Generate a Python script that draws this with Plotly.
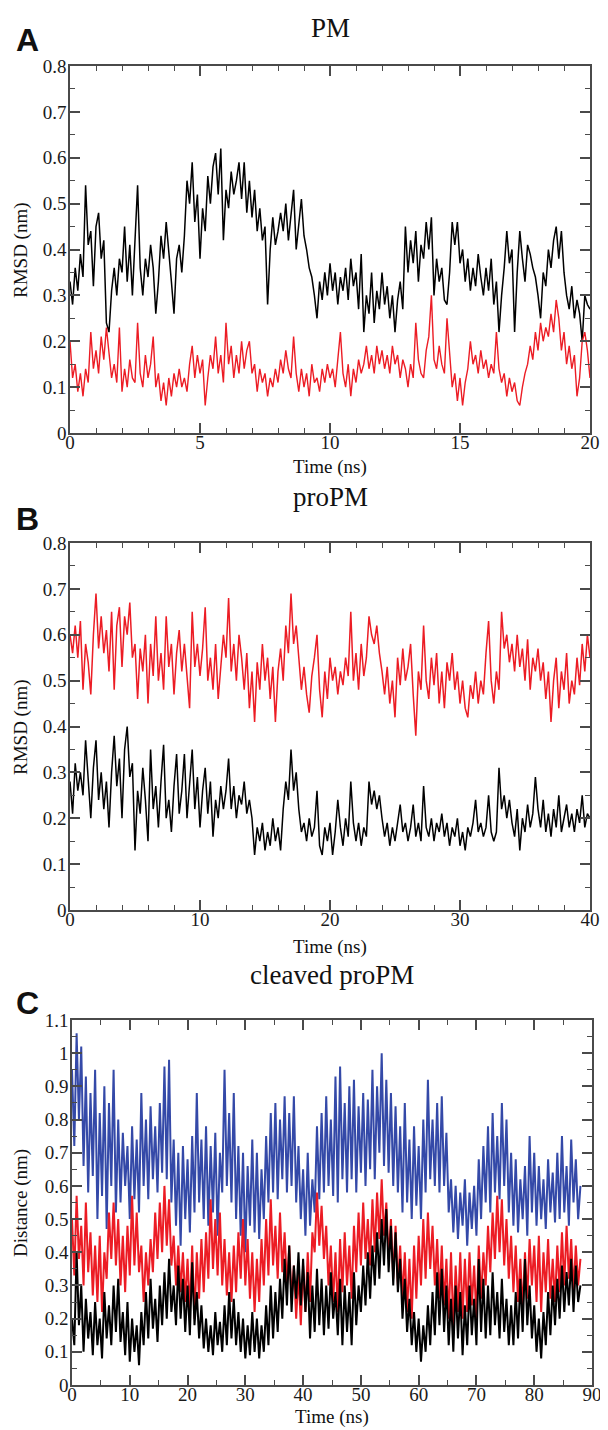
import numpy as np
import plotly.graph_objects as go

# the page body has an 8 px margin, so the figure is drawn 8 px in from the corner
W, H = 608, 1430
OFF = 8
FIG_W, FIG_H = W - OFF, H - OFF

# ---- panel A: PM, RMSD (nm) over 20 ns, one value per 0.1 ns ----
pm_black = [
    0.33, 0.28, 0.36, 0.31, 0.39, 0.34, 0.54, 0.41, 0.44, 0.32,
    0.45, 0.48, 0.38, 0.42, 0.24, 0.22, 0.31, 0.36, 0.30, 0.38,
    0.35, 0.45, 0.33, 0.41, 0.30, 0.44, 0.54, 0.36, 0.30, 0.38,
    0.34, 0.41, 0.36, 0.26, 0.33, 0.43, 0.38, 0.46, 0.40, 0.33,
    0.26, 0.38, 0.41, 0.35, 0.43, 0.55, 0.50, 0.59, 0.46, 0.52,
    0.38, 0.49, 0.44, 0.56, 0.50, 0.58, 0.61, 0.52, 0.62, 0.42,
    0.53, 0.49, 0.57, 0.52, 0.55, 0.59, 0.51, 0.59, 0.48, 0.55,
    0.47, 0.53, 0.44, 0.49, 0.42, 0.45, 0.28, 0.40, 0.47, 0.41,
    0.44, 0.48, 0.44, 0.50, 0.42, 0.47, 0.53, 0.40, 0.46, 0.51,
    0.43, 0.40, 0.36, 0.34, 0.30, 0.25, 0.33, 0.29, 0.35, 0.30,
    0.37, 0.31, 0.35, 0.28, 0.34, 0.31, 0.36, 0.29, 0.38, 0.32,
    0.35, 0.27, 0.39, 0.22, 0.30, 0.26, 0.35, 0.24, 0.31, 0.27,
    0.35, 0.28, 0.32, 0.25, 0.30, 0.22, 0.29, 0.33, 0.27, 0.45,
    0.35, 0.42, 0.37, 0.44, 0.33, 0.41, 0.38, 0.46, 0.40, 0.47,
    0.30, 0.38, 0.33, 0.36, 0.29, 0.28, 0.35, 0.46, 0.41, 0.46,
    0.37, 0.40, 0.33, 0.38, 0.31, 0.36, 0.32, 0.39, 0.34, 0.30,
    0.36, 0.31, 0.38, 0.28, 0.33, 0.22, 0.30, 0.36, 0.44, 0.37,
    0.40, 0.22, 0.35, 0.44, 0.38, 0.33, 0.41, 0.39, 0.36, 0.34,
    0.30, 0.25, 0.35, 0.32, 0.40, 0.36, 0.42, 0.45, 0.38, 0.44,
    0.35, 0.30, 0.27, 0.32, 0.25, 0.29, 0.26, 0.20, 0.30, 0.28,
    0.27,
]
pm_red = [
    0.20, 0.12, 0.15, 0.09, 0.13, 0.08, 0.14, 0.11, 0.22, 0.14,
    0.18, 0.13, 0.21, 0.16, 0.23, 0.17, 0.12, 0.15, 0.11, 0.23,
    0.09, 0.14, 0.10, 0.16, 0.12, 0.11, 0.24, 0.13, 0.10, 0.17,
    0.12, 0.15, 0.21, 0.10, 0.13, 0.07, 0.11, 0.06, 0.12, 0.08,
    0.13, 0.10, 0.14, 0.10, 0.12, 0.09, 0.15, 0.19, 0.12, 0.17,
    0.13, 0.16, 0.06, 0.12, 0.17, 0.14, 0.21, 0.13, 0.17, 0.11,
    0.24, 0.15, 0.19, 0.12, 0.17, 0.13, 0.20, 0.14, 0.18, 0.20,
    0.13, 0.15, 0.09, 0.14, 0.11, 0.13, 0.08, 0.12, 0.10, 0.14,
    0.11, 0.16, 0.13, 0.18, 0.14, 0.12, 0.21, 0.13, 0.09, 0.14,
    0.10, 0.13, 0.08, 0.15, 0.11, 0.12, 0.09, 0.14, 0.11, 0.15,
    0.12, 0.14, 0.10, 0.16, 0.22, 0.13, 0.10, 0.15, 0.08, 0.14,
    0.11, 0.16, 0.13, 0.15, 0.19, 0.14, 0.17, 0.13, 0.19, 0.15,
    0.18, 0.14, 0.17, 0.13, 0.19, 0.15, 0.17, 0.12, 0.16, 0.14,
    0.10, 0.15, 0.12, 0.24, 0.16, 0.13, 0.12, 0.18, 0.21, 0.30,
    0.16, 0.14, 0.19, 0.15, 0.13, 0.25, 0.17, 0.10, 0.13, 0.07,
    0.12, 0.06, 0.11, 0.14, 0.20, 0.15, 0.17, 0.13, 0.18, 0.14,
    0.16, 0.12, 0.15, 0.13, 0.22, 0.14, 0.11, 0.13, 0.08, 0.12,
    0.09, 0.11, 0.07, 0.06, 0.10, 0.13, 0.15, 0.19, 0.16, 0.22,
    0.18, 0.24, 0.20, 0.23, 0.21, 0.26, 0.22, 0.29, 0.25, 0.18,
    0.22, 0.15, 0.19, 0.14, 0.17, 0.08, 0.12, 0.20, 0.22, 0.18,
    0.12,
]

# ---- panel B: proPM, RMSD (nm) over 40 ns, one value per 0.2 ns ----
propm_red = [
    0.60, 0.56, 0.62, 0.55, 0.63, 0.48, 0.58, 0.54, 0.47, 0.60,
    0.69, 0.57, 0.64, 0.56, 0.61, 0.52, 0.65, 0.48, 0.62, 0.66,
    0.53, 0.64, 0.60, 0.67, 0.55, 0.58, 0.46, 0.57, 0.52, 0.60,
    0.45, 0.58, 0.51, 0.64, 0.50, 0.56, 0.48, 0.64, 0.53, 0.58,
    0.47, 0.56, 0.61, 0.52, 0.58, 0.50, 0.44, 0.65, 0.53, 0.58,
    0.51, 0.57, 0.66, 0.50, 0.55, 0.48, 0.58, 0.46, 0.54, 0.60,
    0.55, 0.68, 0.52, 0.58, 0.50, 0.60, 0.55, 0.48, 0.56, 0.44,
    0.52, 0.41, 0.54, 0.48, 0.58, 0.50, 0.55, 0.46, 0.53, 0.41,
    0.52, 0.57, 0.50, 0.62, 0.56, 0.69, 0.58, 0.62, 0.55, 0.48,
    0.53, 0.47, 0.43, 0.51, 0.55, 0.60, 0.48, 0.42, 0.52, 0.46,
    0.55, 0.50, 0.53, 0.47, 0.52, 0.49, 0.55, 0.51, 0.65, 0.50,
    0.56, 0.48, 0.58, 0.51, 0.55, 0.64, 0.60, 0.58, 0.62, 0.56,
    0.52, 0.47, 0.53, 0.45, 0.50, 0.42, 0.55, 0.49, 0.57, 0.50,
    0.53, 0.58, 0.47, 0.38, 0.52, 0.48, 0.62, 0.50, 0.46, 0.55,
    0.49, 0.56, 0.45, 0.52, 0.44, 0.54, 0.50, 0.56, 0.48, 0.52,
    0.45, 0.50, 0.44, 0.42, 0.49, 0.46, 0.52, 0.45, 0.50, 0.47,
    0.56, 0.63, 0.50, 0.45, 0.52, 0.48, 0.65, 0.57, 0.60, 0.54,
    0.58, 0.52, 0.60, 0.53, 0.57, 0.50, 0.59, 0.48, 0.55, 0.52,
    0.57, 0.50, 0.54, 0.46, 0.52, 0.41, 0.50, 0.55, 0.44, 0.52,
    0.48, 0.56, 0.45, 0.50, 0.47, 0.55, 0.49, 0.58, 0.52, 0.60,
    0.55,
]
propm_black = [
    0.28, 0.21, 0.32, 0.26, 0.30, 0.25, 0.37, 0.28, 0.20, 0.31,
    0.37, 0.24, 0.30, 0.22, 0.28, 0.18, 0.30, 0.38, 0.27, 0.33,
    0.20, 0.35, 0.40, 0.29, 0.32, 0.13, 0.26, 0.21, 0.31, 0.24,
    0.15, 0.35, 0.22, 0.27, 0.18, 0.28, 0.36, 0.20, 0.24, 0.17,
    0.27, 0.34, 0.21, 0.26, 0.34, 0.20, 0.27, 0.35, 0.22, 0.29,
    0.18, 0.26, 0.31, 0.21, 0.28, 0.16, 0.24, 0.20, 0.27, 0.22,
    0.26, 0.33, 0.22, 0.27, 0.20, 0.25, 0.23, 0.28, 0.21, 0.24,
    0.20, 0.12, 0.18, 0.15, 0.19, 0.13, 0.17, 0.14, 0.20, 0.15,
    0.18, 0.13, 0.22, 0.28, 0.24, 0.35, 0.26, 0.30, 0.22, 0.17,
    0.19, 0.15, 0.20, 0.16, 0.18, 0.26, 0.14, 0.12, 0.18, 0.15,
    0.19, 0.12, 0.17, 0.24, 0.18, 0.14, 0.20, 0.16, 0.28, 0.19,
    0.15, 0.19, 0.14, 0.18, 0.16, 0.28, 0.23, 0.26, 0.22, 0.25,
    0.20, 0.16, 0.19, 0.14, 0.18, 0.15, 0.19, 0.23, 0.17, 0.19,
    0.15, 0.18, 0.23, 0.16, 0.19, 0.15, 0.27, 0.18, 0.16, 0.20,
    0.15, 0.19, 0.17, 0.21, 0.16, 0.19, 0.14, 0.18, 0.16, 0.20,
    0.14, 0.17, 0.13, 0.18, 0.16, 0.19, 0.24, 0.17, 0.19, 0.16,
    0.18, 0.25, 0.17, 0.15, 0.17, 0.31, 0.22, 0.25, 0.20, 0.24,
    0.19, 0.16, 0.22, 0.13, 0.20, 0.17, 0.23, 0.18, 0.21, 0.29,
    0.22, 0.18, 0.24, 0.17, 0.21, 0.16, 0.22, 0.18, 0.25, 0.17,
    0.20, 0.23, 0.18, 0.21, 0.17, 0.22, 0.19, 0.25, 0.18, 0.21,
    0.20,
]

# ---- panel C: cleaved proPM, distance (nm) over 88 ns, one value per 0.4 ns ----
cleaved_blue = [
    0.95, 0.72, 1.06, 0.80, 1.02, 0.66, 0.93, 0.58, 0.88, 0.63,
    0.95, 0.50, 0.82, 0.57, 0.90, 0.47, 0.85, 0.60, 0.95, 0.52,
    0.80, 0.55, 0.76, 0.60, 0.72, 0.50, 0.78, 0.56, 0.74, 0.52,
    0.88, 0.60, 0.80, 0.56, 0.84, 0.62, 0.78, 0.58, 0.85, 0.64,
    0.96, 0.62, 0.98, 0.55, 0.74, 0.48, 0.70, 0.42, 0.72, 0.50,
    0.68, 0.46, 0.75, 0.52, 0.88, 0.55, 0.74, 0.50, 0.78, 0.48,
    0.72, 0.52, 0.76, 0.45, 0.70, 0.58, 0.95, 0.60, 0.82, 0.55,
    0.88, 0.50, 0.72, 0.45, 0.70, 0.40, 0.66, 0.48, 0.74, 0.46,
    0.70, 0.44, 0.65, 0.50, 0.75, 0.55, 0.82, 0.58, 0.85, 0.56,
    0.80, 0.62, 0.87, 0.58, 0.82, 0.60, 0.87, 0.55, 0.72, 0.50,
    0.65, 0.45, 0.70, 0.48, 0.62, 0.52, 0.78, 0.56, 0.82, 0.58,
    0.87, 0.60, 0.80, 0.57, 0.93, 0.55, 0.96, 0.62, 0.85, 0.58,
    0.90, 0.62, 0.92, 0.58, 0.84, 0.64, 0.88, 0.60, 0.86, 0.65,
    0.95, 0.62, 0.90, 0.70, 1.00, 0.66, 0.92, 0.64, 0.88, 0.60,
    0.84, 0.58, 0.78, 0.52, 0.85, 0.55, 0.74, 0.50, 0.78, 0.54,
    0.72, 0.50, 0.80, 0.58, 0.92, 0.62, 0.80, 0.60, 0.85, 0.58,
    0.87, 0.60, 0.76, 0.52, 0.62, 0.46, 0.60, 0.44, 0.58, 0.48,
    0.62, 0.42, 0.58, 0.47, 0.60, 0.45, 0.68, 0.50, 0.72, 0.55,
    0.78, 0.52, 0.82, 0.58, 0.75, 0.56, 0.85, 0.60, 0.80, 0.52,
    0.70, 0.48, 0.68, 0.46, 0.62, 0.50, 0.66, 0.45, 0.75, 0.52,
    0.70, 0.48, 0.66, 0.50, 0.62, 0.47, 0.68, 0.52, 0.64, 0.49,
    0.70, 0.50, 0.75, 0.52, 0.66, 0.48, 0.74, 0.55, 0.68, 0.50,
    0.60,
]
cleaved_red = [
    0.50, 0.33, 0.57, 0.38, 0.48, 0.30, 0.55, 0.34, 0.46, 0.27,
    0.42, 0.25, 0.45, 0.22, 0.40, 0.32, 0.52, 0.38, 0.55, 0.36,
    0.50, 0.30, 0.45, 0.28, 0.48, 0.33, 0.57, 0.36, 0.52, 0.34,
    0.42, 0.25, 0.40, 0.30, 0.44, 0.34, 0.52, 0.38, 0.55, 0.40,
    0.60, 0.42, 0.56, 0.36, 0.45, 0.30, 0.42, 0.28, 0.40, 0.25,
    0.38, 0.22, 0.42, 0.20, 0.40, 0.26, 0.44, 0.28, 0.46, 0.32,
    0.56, 0.35, 0.50, 0.33, 0.52, 0.30, 0.44, 0.27, 0.40, 0.25,
    0.42, 0.28, 0.46, 0.32, 0.50, 0.30, 0.44, 0.26, 0.40, 0.22,
    0.38, 0.25, 0.44, 0.30, 0.50, 0.33, 0.56, 0.36, 0.48, 0.32,
    0.52, 0.34, 0.46, 0.30, 0.42, 0.26, 0.36, 0.20, 0.34, 0.18,
    0.36, 0.22, 0.40, 0.25, 0.46, 0.40, 0.58, 0.42, 0.54, 0.38,
    0.48, 0.30, 0.42, 0.25, 0.40, 0.22, 0.44, 0.28, 0.46, 0.30,
    0.42, 0.26, 0.48, 0.34, 0.52, 0.36, 0.55, 0.38, 0.50, 0.36,
    0.56, 0.40, 0.58, 0.44, 0.62, 0.45, 0.55, 0.38, 0.50, 0.32,
    0.48, 0.30, 0.42, 0.26, 0.40, 0.22, 0.38, 0.20, 0.42, 0.26,
    0.45, 0.30, 0.50, 0.32, 0.52, 0.35, 0.48, 0.30, 0.44, 0.26,
    0.42, 0.24, 0.38, 0.20, 0.40, 0.17, 0.36, 0.22, 0.40, 0.20,
    0.38, 0.22, 0.40, 0.24, 0.36, 0.20, 0.42, 0.26, 0.40, 0.30,
    0.48, 0.34, 0.52, 0.38, 0.57, 0.40, 0.56, 0.36, 0.50, 0.32,
    0.45, 0.28, 0.42, 0.25, 0.38, 0.22, 0.40, 0.26, 0.44, 0.30,
    0.42, 0.25, 0.45, 0.22, 0.40, 0.28, 0.44, 0.26, 0.38, 0.25,
    0.42, 0.28, 0.46, 0.30, 0.48, 0.32, 0.44, 0.28, 0.42, 0.30,
    0.38,
]
cleaved_black = [
    0.20, 0.12, 0.40, 0.18, 0.30, 0.10, 0.26, 0.14, 0.22, 0.09,
    0.25, 0.12, 0.20, 0.08, 0.28, 0.14, 0.24, 0.12, 0.30, 0.16,
    0.32, 0.13, 0.22, 0.09, 0.25, 0.07, 0.20, 0.10, 0.18, 0.06,
    0.22, 0.12, 0.28, 0.14, 0.32, 0.17, 0.26, 0.13, 0.30, 0.18,
    0.34, 0.20, 0.38, 0.22, 0.30, 0.18, 0.36, 0.20, 0.32, 0.16,
    0.30, 0.15, 0.37, 0.18, 0.28, 0.14, 0.24, 0.11, 0.20, 0.10,
    0.18, 0.09, 0.22, 0.12, 0.19, 0.10, 0.24, 0.12, 0.28, 0.14,
    0.26, 0.12, 0.22, 0.10, 0.20, 0.08, 0.18, 0.09, 0.22, 0.10,
    0.20, 0.08, 0.18, 0.10, 0.24, 0.12, 0.30, 0.14, 0.28, 0.16,
    0.32, 0.20, 0.38, 0.24, 0.42, 0.22, 0.36, 0.26, 0.40, 0.24,
    0.38, 0.22, 0.34, 0.14, 0.30, 0.16, 0.35, 0.18, 0.32, 0.15,
    0.30, 0.17, 0.34, 0.20, 0.28, 0.15, 0.32, 0.12, 0.30, 0.16,
    0.28, 0.12, 0.34, 0.18, 0.30, 0.22, 0.36, 0.24, 0.40, 0.26,
    0.42, 0.30, 0.46, 0.32, 0.50, 0.36, 0.53, 0.34, 0.48, 0.30,
    0.46, 0.28, 0.38, 0.20, 0.32, 0.16, 0.26, 0.12, 0.22, 0.10,
    0.20, 0.07, 0.18, 0.10, 0.24, 0.12, 0.28, 0.15, 0.34, 0.18,
    0.35, 0.16, 0.30, 0.12, 0.26, 0.10, 0.30, 0.14, 0.28, 0.09,
    0.24, 0.12, 0.30, 0.15, 0.26, 0.12, 0.38, 0.16, 0.32, 0.14,
    0.30, 0.15, 0.34, 0.18, 0.28, 0.14, 0.32, 0.16, 0.26, 0.12,
    0.24, 0.12, 0.28, 0.14, 0.32, 0.16, 0.38, 0.18, 0.30, 0.14,
    0.24, 0.10, 0.20, 0.08, 0.22, 0.12, 0.28, 0.15, 0.30, 0.18,
    0.32, 0.20, 0.36, 0.22, 0.34, 0.24, 0.38, 0.22, 0.36, 0.25,
    0.30,
]

t_pm = np.linspace(0, 20, len(pm_black))
t_propm = np.linspace(0, 40, len(propm_red))
t_cleaved = np.linspace(0, 88, len(cleaved_blue))

RED = "#ec1c24"
BLUE = "#3449a8"
BLACK = "#000000"
AXC = "#4a4a4a"
SERIF = "Liberation Serif"


def px(x):
    # page pixel -> paper fraction
    return (x - OFF) / FIG_W


def py(y):
    return 1 - (y - OFF) / FIG_H


def axis(**kw):
    d = dict(showline=True, mirror="ticks", linecolor=AXC, linewidth=1.5,
             ticks="inside", ticklen=10, tickwidth=1.5, tickcolor=AXC,
             showgrid=False, zeroline=False, tick0=0, automargin=False,
             tickfont=dict(family=SERIF, size=19, color="#1a1a1a"))
    d.update(kw)
    return d


def minor(step):
    return dict(dtick=step, ticks="inside", ticklen=5, tickwidth=1.2,
                tickcolor=AXC, showgrid=False)


fig = go.Figure()

fig.add_trace(go.Scatter(x=t_pm, y=pm_black, xaxis="x", yaxis="y", mode="lines",
                         line=dict(color=BLACK, width=1.5)))
fig.add_trace(go.Scatter(x=t_pm, y=pm_red, xaxis="x", yaxis="y", mode="lines",
                         line=dict(color=RED, width=1.4)))

fig.add_trace(go.Scatter(x=t_propm, y=propm_red, xaxis="x2", yaxis="y2", mode="lines",
                         line=dict(color=RED, width=1.5)))
fig.add_trace(go.Scatter(x=t_propm, y=propm_black, xaxis="x2", yaxis="y2", mode="lines",
                         line=dict(color=BLACK, width=1.5)))

fig.add_trace(go.Scatter(x=t_cleaved, y=cleaved_blue, xaxis="x3", yaxis="y3", mode="lines",
                         line=dict(color=BLUE, width=2)))
fig.add_trace(go.Scatter(x=t_cleaved, y=cleaved_red, xaxis="x3", yaxis="y3", mode="lines",
                         line=dict(color=RED, width=2)))
fig.add_trace(go.Scatter(x=t_cleaved, y=cleaved_black, xaxis="x3", yaxis="y3", mode="lines",
                         line=dict(color=BLACK, width=2)))

# panel geometry in page pixels (left, right, top, bottom)
pa = (70, 590, 66, 433)
pb = (70, 590, 543, 910)
pc = (72, 592, 1020, 1385)

fig.update_layout(
    template="none",
    width=FIG_W, height=FIG_H,
    margin=dict(l=0, r=0, t=0, b=0, pad=0),
    paper_bgcolor="white", plot_bgcolor="white",
    font=dict(family=SERIF, size=19, color="#1a1a1a"),
    showlegend=False,
    xaxis=axis(domain=[px(pa[0]), px(pa[1])], anchor="y", range=[0, 20], dtick=5,
               minor=minor(1), ticklabelstandoff=-9),
    yaxis=axis(domain=[py(pa[3]), py(pa[2])], anchor="x", range=[0, 0.8], dtick=0.1,
               minor=minor(0.05), ticklabelstandoff=-2),
    xaxis2=axis(domain=[px(pb[0]), px(pb[1])], anchor="y2", range=[0, 40], dtick=10,
                minor=minor(2), ticklabelstandoff=-9),
    yaxis2=axis(domain=[py(pb[3]), py(pb[2])], anchor="x2", range=[0, 0.8], dtick=0.1,
                minor=minor(0.05), ticklabelstandoff=-2),
    xaxis3=axis(domain=[px(pc[0]), px(pc[1])], anchor="y3", range=[0, 90], dtick=10,
                minor=minor(5), ticklabelstandoff=-9),
    yaxis3=axis(domain=[py(pc[3]), py(pc[2])], anchor="x3", range=[0, 1.1], dtick=0.1,
                minor=minor(0.05), ticklabelstandoff=-2),
)


def note(text, x, y, size, family=SERIF, angle=0, bold=False):
    if bold:
        text = "<b>" + text + "</b>"
    fig.add_annotation(text=text, x=px(x), y=py(y), xref="paper", yref="paper",
                       xanchor="center", yanchor="middle", showarrow=False,
                       textangle=angle, font=dict(family=family, size=size, color="#111"))


note("PM", 330, 28, 27)
note("proPM", 330, 497, 27)
note("cleaved proPM", 332, 975, 27)

note("A", 27, 40, 32, family="Liberation Sans", bold=True)
note("B", 27, 519, 32, family="Liberation Sans", bold=True)
note("C", 27, 1003, 32, family="Liberation Sans", bold=True)

note("Time (ns)", 330, 467, 19)
note("Time (ns)", 330, 947, 19)
note("Time (ns)", 332, 1417, 19)

note("RMSD (nm)", 21, 250, 19, angle=-90)
note("RMSD (nm)", 21, 727, 19, angle=-90)
note("Distance (nm)", 21, 1203, 19, angle=-90)

fig.write_html("out.html")
